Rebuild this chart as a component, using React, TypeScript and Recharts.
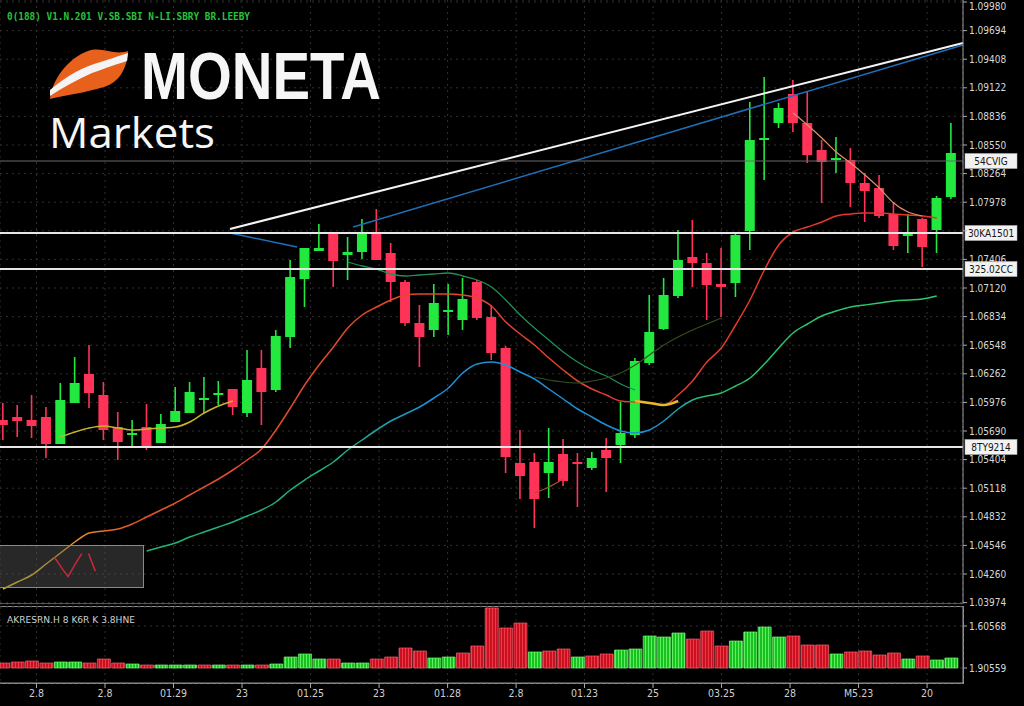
import React from 'react';
import {
  ComposedChart,
  BarChart,
  LineChart,
  Bar,
  Line,
  XAxis,
  YAxis,
  CartesianGrid,
  ReferenceLine,
  Cell,
} from 'recharts';

// candles (one per session)
const OPEN = [
  1.0580, 1.0583, 1.0580, 1.0583, 1.0556, 1.0597, 1.0626, 1.0605, 1.0573, 1.0566,
  1.0573, 1.0557, 1.0578, 1.0587, 1.0600, 1.0605, 1.0611, 1.0587, 1.0632, 1.0610,
  1.0663, 1.0721, 1.0749, 1.0766, 1.0745, 1.0748, 1.0767, 1.0747, 1.0718, 1.0677,
  1.0670, 1.0688, 1.0680, 1.0718, 1.0683, 1.0652, 1.0537, 1.0538, 1.0527, 1.0546,
  1.0538, 1.0532, 1.0550, 1.0555, 1.0565, 1.0637, 1.0671, 1.0704, 1.0743, 1.0737,
  1.0716, 1.0717, 1.0769, 1.0860, 1.0877, 1.0906, 1.0877, 1.0850, 1.0840, 1.0840,
  1.0817, 1.0812, 1.0786, 1.0764, 1.0781, 1.0770, 1.0803,
];
const CLOSE = [
  1.0575, 1.0579, 1.0574, 1.0556, 1.0600, 1.0617, 1.0607, 1.0570, 1.0558, 1.0567,
  1.0553, 1.0576, 1.0589, 1.0608, 1.0602, 1.0607, 1.0593, 1.0620, 1.0608, 1.0664,
  1.0723, 1.0752, 1.0752, 1.0739, 1.0748, 1.0767, 1.0740, 1.0718, 1.0677, 1.0663,
  1.0697, 1.0690, 1.0701, 1.0682, 1.0647, 1.0543, 1.0524, 1.0501, 1.0538, 1.0519,
  1.0536, 1.0542, 1.0542, 1.0567, 1.0639, 1.0668, 1.0705, 1.0740, 1.0737, 1.0715,
  1.0713, 1.0765, 1.0860, 1.0862, 1.0892, 1.0877, 1.0845, 1.0838, 1.0842, 1.0817,
  1.0809, 1.0784, 1.0754, 1.0766, 1.0753, 1.0802, 1.0847,
];
const HIGH = [
  1.0597, 1.0595, 1.0605, 1.0593, 1.0617, 1.0643, 1.0655, 1.0618, 1.0588, 1.0580,
  1.0596, 1.0586, 1.0613, 1.0618, 1.0623, 1.0619, 1.0611, 1.0650, 1.0650, 1.0670,
  1.0740, 1.0752, 1.0776, 1.0768, 1.0763, 1.0781, 1.0791, 1.0757, 1.0720, 1.0695,
  1.0716, 1.0716, 1.0722, 1.0720, 1.0695, 1.0654, 1.0570, 1.0547, 1.0572, 1.0561,
  1.0547, 1.0548, 1.0562, 1.0598, 1.0642, 1.0705, 1.0722, 1.0770, 1.0780, 1.0747,
  1.0752, 1.0768, 1.0898, 1.0923, 1.0897, 1.0920, 1.0908, 1.0860, 1.0863, 1.0852,
  1.0827, 1.0825, 1.0798, 1.0786, 1.0782, 1.0804, 1.0877,
];
const LOW = [
  1.0560, 1.0563, 1.0562, 1.0542, 1.0556, 1.0597, 1.0592, 1.0560, 1.0540, 1.0553,
  1.0550, 1.0557, 1.0578, 1.0587, 1.0587, 1.0595, 1.0585, 1.0583, 1.0575, 1.0608,
  1.0652, 1.0693, 1.0749, 1.0713, 1.0720, 1.0741, 1.0740, 1.0698, 1.0674, 1.0633,
  1.0663, 1.0665, 1.0670, 1.0680, 1.0640, 1.0527, 1.0501, 1.0472, 1.0502, 1.0514,
  1.0493, 1.0530, 1.0508, 1.0537, 1.0562, 1.0635, 1.0670, 1.0702, 1.0713, 1.0680,
  1.0683, 1.0703, 1.0750, 1.0820, 1.0872, 1.0868, 1.0837, 1.0797, 1.0827, 1.0793,
  1.0778, 1.0782, 1.0750, 1.0747, 1.0733, 1.0747, 1.0801,
];
const VOLUME = [
  500, 600, 700, 500, 600, 600, 500, 900, 500, 400,
  300, 300, 300, 300, 300, 300, 300, 300, 300, 400,
  1100, 1400, 900, 900, 500, 500, 900, 1100, 2000, 1700,
  1000, 1100, 1500, 2200, 6000, 4000, 4500, 1600, 1700, 1900,
  1100, 1200, 1400, 1800, 1900, 3200, 3100, 3500, 2900, 3700,
  2200, 2700, 3600, 4100, 3100, 3200, 2300, 2300, 1400, 1600,
  1700, 1300, 1500, 900, 1200, 800, 1000,
];
// g = buy volume, r = sell volume
const VOL_SIDE = 'rrrrggrrrgrgggrgrgrggggrggrrrrggrrrrrgrrgrrgggggrrrggggrrrgrrrrgrgg';

// moving averages, each starting at the given session
const MA_SLOW = [
  1.0411, 1.0418, 1.0425, 1.0436, 1.0447, 1.0458, 1.0467, 1.0469, 1.0471, 1.0476,
  1.0483, 1.0490, 1.0497, 1.0505, 1.0513, 1.0521, 1.0530, 1.0540, 1.0551, 1.0570,
  1.0592, 1.0615, 1.0635, 1.0653, 1.0672, 1.0685, 1.0693, 1.0700, 1.0705, 1.0706,
  1.0706, 1.0706, 1.0705, 1.0702, 1.0694, 1.0678, 1.0666, 1.0655, 1.0642, 1.0630,
  1.0619, 1.0611, 1.0605, 1.0599, 1.0598, 1.0597, 1.0595, 1.0605, 1.0619, 1.0638,
  1.0652, 1.0675, 1.0700, 1.0730, 1.0755, 1.0768, 1.0773, 1.0778, 1.0784, 1.0786,
  1.0787, 1.0787, 1.0786, 1.0785, 1.0784, 1.0782,
];
const MA_SLOW_START = 0;
const MA_LONG = [
  1.0449, 1.0453, 1.0457, 1.0463, 1.0468, 1.0473, 1.0478, 1.0484, 1.0490, 1.0498,
  1.0510, 1.0520, 1.0529, 1.0538, 1.0550, 1.0560, 1.0570, 1.0579, 1.0586, 1.0593,
  1.0602, 1.0612, 1.0627, 1.0636, 1.0638, 1.0635, 1.0628, 1.0621, 1.0611, 1.0601,
  1.0591, 1.0583, 1.0575, 1.0569, 1.0567, 1.0570, 1.0579, 1.0591, 1.0600, 1.0604,
  1.0607, 1.0614, 1.0622, 1.0636, 1.0652, 1.0667, 1.0676, 1.0684, 1.0689, 1.0693,
  1.0695, 1.0697, 1.0699, 1.0700, 1.0701, 1.0704,
];
const MA_LONG_START = 10;
const MA_MID = [
  1.0738, 1.0734, 1.0731, 1.0726, 1.0724, 1.0725, 1.0726, 1.0727, 1.0724, 1.0720,
  1.0713, 1.0700, 1.0685, 1.0672, 1.0660, 1.0648, 1.0638, 1.0630, 1.0624, 1.0616,
  1.0610,
];
const MA_MID_START = 24;
const MA_OLIVE = [
  1.0623, 1.0620, 1.0618, 1.0617, 1.0619, 1.0622, 1.0627, 1.0635, 1.0645, 1.0655,
  1.0663, 1.0670, 1.0676, 1.0682,
];
const MA_OLIVE_START = 37;
const MA_FAST_A = [
  1.0563, 1.0568, 1.0572, 1.0574, 1.0572, 1.0570, 1.0571, 1.0572, 1.0573, 1.0578,
  1.0587, 1.0594, 1.0599,
];
const MA_FAST_A_START = 4;
const MA_FAST_B = [1.0887, 1.0875, 1.0862, 1.0848, 1.0837, 1.0825, 1.0812, 1.0797, 1.0788, 1.0784];
const MA_FAST_B_START = 55;
const MA_FAST_C = [1.0507, 1.0513, 1.0521];
const MA_FAST_C_START = 37;
const MA_FAST_D = [1.0599, 1.0597, 1.0595, 1.0599];
const MA_FAST_D_START = 44;

// levels and trendlines
const LEVELS = [
  { price: 1.0839, tag: '54CVIG', color: '#6a6a6a', width: 1 },
  { price: 1.0767, tag: '30KA1501', color: '#e6e6e6', width: 2 },
  { price: 1.0731, tag: '325.02CC', color: '#e6e6e6', width: 2 },
  { price: 1.0553, tag: '8TY9214', color: '#e6e6e6', width: 2 },
];
const TREND_WHITE = [{ x: 15.8, y: 1.0771 }, { x: 66.83, y: 1.0957 }];
const TREND_BLUE = [{ x: 24.37, y: 1.0773 }, { x: 66.83, y: 1.0955 }];
const TREND_BLUE_SHORT = [{ x: 15.8, y: 1.0767 }, { x: 20.47, y: 1.0753 }];

// axes
const X_DOMAIN = [-0.21, 66.83];
const X_TICKS = [2.33, 7.1, 11.87, 16.64, 21.41, 26.18, 30.95, 35.72, 40.48, 45.25, 50.02, 54.79, 59.56, 64.33];
const X_LABELS = ['2.8', '2.8', '01.29', '23', '01.25', '23', '01.28', '2.8', '01.23', '25', '03.25', '28', 'M5.23', '20'];
const PRICE_DOMAIN = [1.0396, 1.1];
const PRICE_TICKS = [
  1.03974, 1.0426, 1.04546, 1.04832, 1.05118, 1.05404, 1.0569, 1.05976, 1.06262, 1.06548, 1.06834,
  1.0712, 1.07406, 1.07692, 1.07978, 1.08264, 1.0855, 1.08836, 1.09122, 1.09408, 1.09694, 1.0998,
];
const VOL_DOMAIN = [-1500, 6100];
const VOL_TICKS = [0, 4200];
const VOL_LABELS = ['1.90559', '1.60568'];

// small inset sparkline
const SPARK_A = [null, null, null, null, null, null, null, null, 30, 19, 9, 22, 34, null, null, null, null, null, null, null, null, null];
const SPARK_B = [null, null, null, null, null, null, null, null, null, null, null, null, null, 34, 15, null, null, null, null, null, null, null];

const GREEN = '#22e83f';
const RED = '#ff3358';
const AXIS_FONT = "'Liberation Sans Narrow', 'DejaVu Sans Condensed', 'Liberation Sans', sans-serif";

const N = OPEN.length;
const pick = (arr: number[], start: number, i: number) =>
  i >= start && i - start < arr.length ? arr[i - start] : null;

const rows = Array.from({ length: N }, (_, i) => ({
  i,
  open: OPEN[i],
  high: HIGH[i],
  low: LOW[i],
  close: CLOSE[i],
  volume: VOLUME[i],
  maSlow: pick(MA_SLOW, MA_SLOW_START, i),
  maLong: pick(MA_LONG, MA_LONG_START, i),
  maMid: pick(MA_MID, MA_MID_START, i),
  maOlive: pick(MA_OLIVE, MA_OLIVE_START, i),
  maFastA: pick(MA_FAST_A, MA_FAST_A_START, i),
  maFastB: pick(MA_FAST_B, MA_FAST_B_START, i),
  maFastC: pick(MA_FAST_C, MA_FAST_C_START, i),
  maFastD: pick(MA_FAST_D, MA_FAST_D_START, i),
}));

const sparkRows = SPARK_A.map((a, k) => ({ k, a, b: SPARK_B[k] }));

const Candle = (props: any) => {
  const { x, y, width, height, payload } = props;
  if (!payload || height == null) return null;
  const { open, close, high, low } = payload;
  const up = close >= open;
  const color = up ? GREEN : RED;
  const ratio = height / (high - low);
  const yO = y + (high - open) * ratio;
  const yC = y + (high - close) * ratio;
  const top = Math.min(yO, yC);
  const h = Math.max(Math.abs(yO - yC), 2);
  const cx = x + width / 2;
  return (
    <g>
      <line x1={cx} x2={cx} y1={y} y2={y + height} stroke={color} strokeWidth={1.6} />
      <rect x={x} y={top} width={width} height={h} fill={color} />
    </g>
  );
};

const TagLabel = (props: any) => {
  const { viewBox, text } = props;
  if (!viewBox) return null;
  const x = viewBox.x + viewBox.width + 2;
  const y = viewBox.y;
  return (
    <g>
      <rect x={x} y={y - 7.5} width={52} height={15} fill="#f2f2f2" stroke="#bbb" strokeWidth={0.5} />
      <text x={x + 26} y={y + 3.6} textAnchor="middle" fontSize={10} fill="#151515" fontFamily={AXIS_FONT}>
        {text}
      </text>
    </g>
  );
};

// price labels hidden behind a level tag are not drawn; the top one is kept inside the frame
const PriceTick = (props: any) => {
  const { x, y, payload } = props;
  if (LEVELS.some((l) => Math.abs(l.price - payload.value) < 0.0008)) return null;
  return (
    <text x={x} y={Math.max(y, 6)} dy="0.355em" textAnchor="start" fontSize={10} fill="#d8d8d8" fontFamily={AXIS_FONT}>
      {payload.value.toFixed(5)}
    </text>
  );
};

const lineProps = { dot: false, activeDot: false, type: 'monotone' as const, isAnimationActive: false };

export default function App() {
  return (
    <div
      style={{
        position: 'absolute',
        left: 0,
        top: 0,
        width: 1024,
        height: 706,
        background: '#000',
        overflow: 'hidden',
        fontFamily: AXIS_FONT,
      }}
    >
      <svg width={0} height={0} style={{ position: 'absolute' }}>
        <defs>
          <linearGradient id="gSlow" gradientUnits="userSpaceOnUse" x1={0} y1={0} x2={963} y2={0}>
            <stop offset="0" stopColor="#d9c21e" />
            <stop offset="0.07" stopColor="#e39a24" />
            <stop offset="0.14" stopColor="#e0522c" />
            <stop offset="1" stopColor="#e6302c" />
          </linearGradient>
          <linearGradient id="gLong" gradientUnits="userSpaceOnUse" x1={0} y1={0} x2={963} y2={0}>
            <stop offset="0" stopColor="#22b862" />
            <stop offset="0.36" stopColor="#1fae86" />
            <stop offset="0.44" stopColor="#1c90d6" />
            <stop offset="0.68" stopColor="#1c90d6" />
            <stop offset="0.74" stopColor="#27c068" />
            <stop offset="1" stopColor="#2ecc71" />
          </linearGradient>
          <pattern id="pRed" width={3} height={10} patternUnits="userSpaceOnUse">
            <rect width={3} height={10} fill="#c8101e" />
            <rect width={1} height={10} fill="#ee3a48" />
          </pattern>
          <pattern id="pGreen" width={3} height={10} patternUnits="userSpaceOnUse">
            <rect width={3} height={10} fill="#18c020" />
            <rect width={1} height={10} fill="#5cf060" />
          </pattern>
        </defs>
      </svg>

      <div style={{ position: 'absolute', left: 0, top: 0 }}>
        <ComposedChart width={1024} height={610} data={rows} margin={{ top: 0, right: 0, bottom: 6, left: 0 }}>
          <CartesianGrid stroke="#303030" strokeDasharray="2 4" />
          <XAxis dataKey="i" type="number" domain={X_DOMAIN} ticks={X_TICKS} allowDataOverflow hide />
          <YAxis
            orientation="right"
            width={61}
            domain={PRICE_DOMAIN}
            ticks={PRICE_TICKS}
            interval={0}
            allowDataOverflow
            tick={<PriceTick />}
            tickSize={4}
            tickLine={{ stroke: '#aaa' }}
            axisLine={{ stroke: '#9a9a9a' }}
          />
          <Line dataKey="maSlow" stroke="url(#gSlow)" strokeWidth={1.5} {...lineProps} />
          <Line dataKey="maLong" stroke="url(#gLong)" strokeWidth={1.5} {...lineProps} />
          <Line dataKey="maMid" stroke="#1f8f55" strokeWidth={1.3} {...lineProps} />
          <Line dataKey="maOlive" stroke="#34501c" strokeWidth={1.2} {...lineProps} />
          <Line dataKey="maFastA" stroke="#c9b52a" strokeWidth={1.5} {...lineProps} />
          <Line dataKey="maFastC" stroke="#a0522d" strokeWidth={1.3} {...lineProps} />
          <Line dataKey="maFastD" stroke="#e8b828" strokeWidth={2.5} {...lineProps} />
          <ReferenceLine segment={TREND_WHITE} stroke="#f4f4f4" strokeWidth={2} />
          <ReferenceLine segment={TREND_BLUE} stroke="#1e6fb8" strokeWidth={1.5} />
          <ReferenceLine segment={TREND_BLUE_SHORT} stroke="#1e6fb8" strokeWidth={1.5} />
          {LEVELS.map((l) => (
            <ReferenceLine
              key={l.tag}
              y={l.price}
              stroke={l.color}
              strokeWidth={l.width}
              label={<TagLabel text={l.tag} />}
            />
          ))}
          <Bar dataKey={(d: any) => [d.low, d.high]} barSize={10} shape={Candle} isAnimationActive={false} />
          <Line dataKey="maFastB" stroke="#e0906a" strokeWidth={1.2} {...lineProps} />
        </ComposedChart>
      </div>

      <div style={{ position: 'absolute', left: 0, top: 603, width: 963, height: 1, background: '#555' }} />
      <div style={{ position: 'absolute', left: -1, top: 606, width: 963, height: 76, border: '1px solid #8a8a8a' }} />

      <div style={{ position: 'absolute', left: 0, top: 604 }}>
        <BarChart width={1024} height={102} data={rows} margin={{ top: 3, right: 0, bottom: 0, left: 0 }}>
          <CartesianGrid stroke="#303030" strokeDasharray="2 4" />
          <XAxis
            dataKey="i"
            type="number"
            domain={X_DOMAIN}
            ticks={X_TICKS}
            interval={0}
            allowDataOverflow
            height={23}
            tickFormatter={(_v: number, idx: number) => X_LABELS[idx]}
            tick={{ fill: '#cfcfcf', fontSize: 10.5 }}
            tickSize={5}
            tickLine={{ stroke: '#aaa' }}
            axisLine={{ stroke: '#8a8a8a' }}
          />
          <YAxis
            orientation="right"
            width={61}
            domain={VOL_DOMAIN}
            ticks={VOL_TICKS}
            interval={0}
            allowDataOverflow
            tickFormatter={(_v: number, idx: number) => VOL_LABELS[idx]}
            tick={{ fill: '#d8d8d8', fontSize: 10 }}
            tickSize={4}
            tickLine={{ stroke: '#aaa' }}
            axisLine={{ stroke: '#9a9a9a' }}
          />
          <Bar dataKey="volume" barSize={13} isAnimationActive={false}>
            {rows.map((r) => (
              <Cell
                key={r.i}
                fill={VOL_SIDE[r.i] === 'g' ? 'url(#pGreen)' : 'url(#pRed)'}
                stroke={VOL_SIDE[r.i] === 'g' ? '#7cf07c' : '#f06070'}
                strokeWidth={0.7}
              />
            ))}
          </Bar>
        </BarChart>
      </div>

      <div
        style={{
          position: 'absolute',
          left: -1,
          top: 545,
          width: 143,
          height: 41,
          background: 'rgba(95,95,95,0.42)',
          border: '1px solid #8a8a8a',
        }}
      >
        <LineChart width={143} height={41} data={sparkRows} margin={{ top: 2, right: 0, bottom: 2, left: 0 }}>
          <XAxis dataKey="k" hide />
          <YAxis domain={[0, 40]} hide />
          <Line dataKey="a" stroke="#c8283c" strokeWidth={1.5} dot={false} activeDot={false} isAnimationActive={false} />
          <Line dataKey="b" stroke="#c8283c" strokeWidth={1.5} dot={false} activeDot={false} isAnimationActive={false} />
        </LineChart>
      </div>

      <svg width={1024} height={706} style={{ position: 'absolute', left: 0, top: 0, pointerEvents: 'none' }}>
        <text x={7} y={20} fontSize={10.5} fontWeight="bold" fill="#27c23a" fontFamily="'DejaVu Sans Mono', monospace" textLength={243} lengthAdjust="spacingAndGlyphs">
          0(188) V1.N.201 V.SB.SBI N-LI.SBRY BR.LEEBY
        </text>
        <path d="M50 99 C52 80 68 58 88 51 C102 46 114 56 128 51 C127 68 120 82 104 87 C84 93 66 95 50 99 Z" fill="#e8611c" />
        <path d="M50 90 C62 80 76 70 94 64 C108 60 118 56 128 53 L127 61 C117 64 106 68 92 73 C76 80 62 88 50 96 Z" fill="#f4f4f4" />
        <text x={141} y={99} fontSize={66} fontWeight="bold" fill="#f6f6f6" fontFamily="'Liberation Sans', Arial, sans-serif" textLength={240} lengthAdjust="spacingAndGlyphs">
          MONETA
        </text>
        <text x={49} y={148} fontSize={42} fill="#f6f6f6" fontFamily="'Open Sans', sans-serif" textLength={166} lengthAdjust="spacingAndGlyphs">
          Markets
        </text>
        <text x={7} y={623} fontSize={9.5} fill="#cfcfcf" fontFamily={AXIS_FONT} textLength={128} lengthAdjust="spacingAndGlyphs">
          AKRESRN.H 8 K6R K 3.8HNE
        </text>
      </svg>
    </div>
  );
}
